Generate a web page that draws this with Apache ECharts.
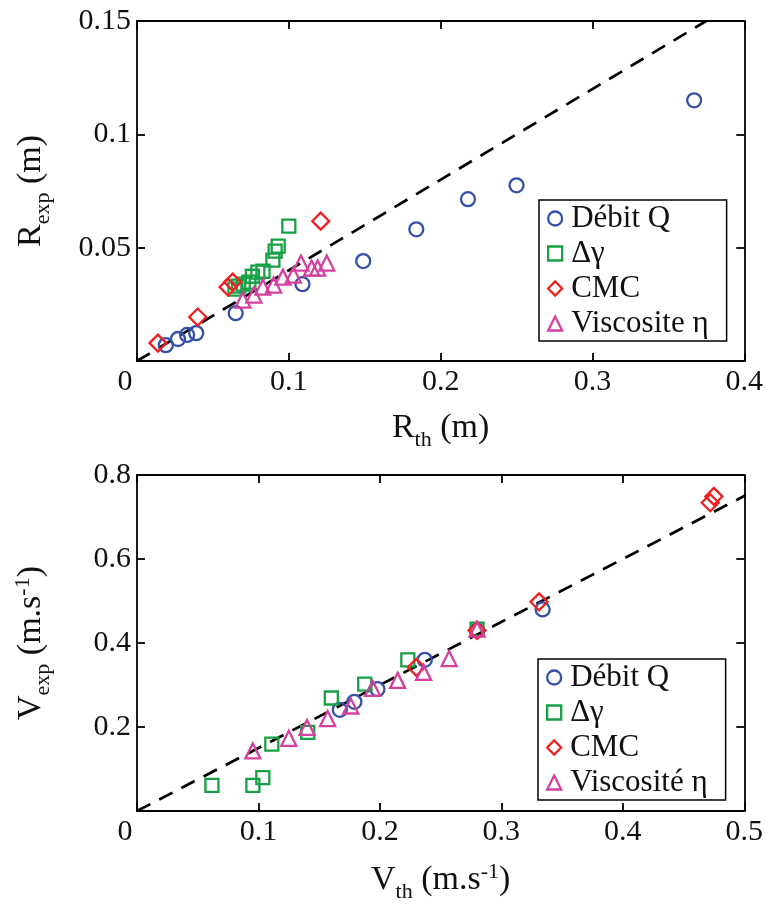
<!DOCTYPE html>
<html><head><meta charset="utf-8">
<script src="https://cdn.jsdelivr.net/npm/echarts@6/dist/echarts.min.js"></script>
<style>html,body{margin:0;padding:0;background:#fff}#c{width:766px;height:904px}</style>
</head><body><div id="c"></div>
<script>
// ---------- data ----------
// Top panel: R_exp vs R_th (m)
const rDebitQ = [[0.019,0.0070],[0.027,0.0097],[0.033,0.0115],[0.039,0.0123],[0.065,0.0211],[0.109,0.0339],[0.149,0.0441],[0.184,0.0581],[0.218,0.0714],[0.250,0.0775],[0.367,0.1150]];
const rDeltaGamma = [[0.100,0.0595],[0.093,0.0507],[0.091,0.0485],[0.0895,0.0445],[0.083,0.0396],[0.0796,0.0392],[0.076,0.0374],[0.0737,0.0348],[0.070,0.0339],[0.067,0.0330],[0.0645,0.0317]];
const rCMC = [[0.121,0.0617],[0.060,0.0326],[0.063,0.0348],[0.040,0.0194],[0.0138,0.0079]];
const rViscosite = [[0.0697,0.0269],[0.077,0.0291],[0.0829,0.0326],[0.090,0.0335],[0.0961,0.0370],[0.103,0.0379],[0.108,0.0432],[0.115,0.0410],[0.119,0.0410],[0.125,0.0432]];
const rSlope = 0.4;               // dashed reference line R_exp = 0.4 R_th
const rXRange = [0, 0.4, 0.1];    // min, max, interval
const rYRange = [0, 0.15, 0.05];

// Bottom panel: V_exp vs V_th (m.s-1)
const vDebitQ = [[0.167,0.241],[0.179,0.260],[0.198,0.290],[0.237,0.360],[0.280,0.430],[0.334,0.480]];
const vDeltaGamma = [[0.0617,0.0608],[0.0954,0.0608],[0.1036,0.0795],[0.111,0.159],[0.1406,0.187],[0.160,0.269],[0.1875,0.302],[0.223,0.360],[0.280,0.433]];
const vCMC = [[0.230,0.342],[0.280,0.430],[0.331,0.498],[0.472,0.734],[0.475,0.749]];
const vViscosite = [[0.0954,0.143],[0.125,0.173],[0.140,0.199],[0.157,0.220],[0.176,0.250],[0.194,0.292],[0.2146,0.311],[0.236,0.330],[0.257,0.363],[0.280,0.433]];
const vSlope = 1.5;               // dashed reference line V_exp = 1.5 V_th
const vXRange = [0, 0.5, 0.1];
const vYRange = [0, 0.8, 0.2];

const namesTop = ['Débit Q','Δγ','CMC','Viscosite η'];
const namesBottom = ['Débit Q','Δγ','CMC','Viscosité η'];

// ---------- styling ----------
const FONT = 'Liberation Serif';
const cBlue = '#3550a8', cGreen = '#17a045', cRed = '#f02020', cMag = '#d4409e';
const markers = [
  {symbol:'circle', size:14, color:cBlue},
  {symbol:'rect', size:13, color:cGreen},
  {symbol:'diamond', size:17, color:cRed},
  {symbol:'triangle', size:15, color:cMag}
];
const lineSt = {color:'#000', width:1.8};

function xLabelFmt(v){ return v === 0 ? '{z|0}' : String(v); }
function yLabelFmt(v){ return v === 0 ? '' : String(v); }

const nameRich = {
  a:{fontFamily:FONT, fontSize:34, color:'#111', verticalAlign:'bottom', padding:[0,0,6,0]},
  s:{fontFamily:FONT, fontSize:22, color:'#111', verticalAlign:'bottom'},
  p:{fontFamily:FONT, fontSize:22, color:'#111', verticalAlign:'bottom', padding:[0,0,20,0]}
};

function axis(gridIndex, range, pos, opts){
  const main = (pos === 'bottom' || pos === 'left');
  return Object.assign({
    type:'value', gridIndex, position:pos,
    min:range[0], max:range[1], interval:range[2],
    axisLine:{show:true, onZero:false, lineStyle:lineSt},
    axisTick:{show:true, inside:true, length:8, lineStyle:lineSt},
    splitLine:{show:false},
    axisLabel:{show:main, fontFamily:FONT, fontSize:30, color:'#111', margin:6,
      formatter:(pos==='bottom') ? xLabelFmt : yLabelFmt,
      rich:{z:{fontFamily:FONT, fontSize:30, color:'#111', padding:[0,24,0,0]}}}
  }, opts || {});
}

function scatterSeries(names, datasets, xi, yi){
  return datasets.map((d,i)=>({
    type:'scatter', name:names[i], xAxisIndex:xi, yAxisIndex:yi, data:d,
    symbol:markers[i].symbol, symbolSize:markers[i].size, z:3,
    itemStyle:{color:'rgba(0,0,0,0)', borderColor:markers[i].color, borderWidth:2.3, opacity:1},
    emphasis:{disabled:true}, silent:true
  }));
}
function refLine(slope, yRange, xi, yi){
  const yEnd = yRange[1];
  return {type:'line', xAxisIndex:xi, yAxisIndex:yi, data:[[0,0],[yEnd/slope, yEnd]],
    symbol:'none', showSymbol:false, silent:true, z:2,
    lineStyle:{color:'#000', width:2.7, type:[15,10]}};
}
function legend(names, left, top){
  return {
    orient:'vertical', left, top, padding:[3,18,2,8], itemGap:4, itemWidth:14, itemHeight:14,
    borderColor:'#000', borderWidth:1.5, backgroundColor:'#fff', selectedMode:false,
    formatter: n => '{t|' + n + '}',
    textStyle:{fontFamily:FONT, fontSize:31, lineHeight:30, color:'#111',
      rich:{t:{fontFamily:FONT, fontSize:31, lineHeight:30, color:'#111', padding:[0,0,0,4]}}},
    data: names.map((n,i)=>({name:n, icon:markers[i].symbol,
      itemStyle:{color:'rgba(0,0,0,0)', borderColor:markers[i].color, borderWidth:2.3}}))
  };
}

const chart = echarts.init(document.getElementById('c'), null, {renderer:'canvas'});
chart.setOption({
  animation:false,
  backgroundColor:'#fff',
  grid:[{left:137, top:21, width:608, height:340},
        {left:137, top:475, width:608, height:342}],
  xAxis:[
    axis(0, rXRange, 'bottom', {name:'{a|R}{s|th}{a| (m)}', nameLocation:'middle', nameGap:50, nameTextStyle:{rich:nameRich}}),
    axis(0, rXRange, 'top'),
    axis(1, vXRange, 'bottom', {name:'{a|V}{s|th}{a| (m.s}{p|-1}{a|)}', nameLocation:'middle', nameGap:50, nameTextStyle:{rich:nameRich}}),
    axis(1, vXRange, 'top')
  ],
  yAxis:[
    axis(0, rYRange, 'left', {name:'{a|R}{s|exp}{a| (m)}', nameLocation:'middle', nameGap:83, nameTextStyle:{rich:nameRich}}),
    axis(0, rYRange, 'right'),
    axis(1, vYRange, 'left', {name:'{a|V}{s|exp}{a| (m.s}{p|-1}{a|)}', nameLocation:'middle', nameGap:83, nameTextStyle:{rich:nameRich}}),
    axis(1, vYRange, 'right')
  ],
  legend:[legend(namesTop, 539, 200), legend(namesBottom, 538, 659)],
  series:[
    refLine(rSlope, rYRange, 0, 0),
    ...scatterSeries(namesTop, [rDebitQ, rDeltaGamma, rCMC, rViscosite], 0, 0),
    refLine(vSlope, vYRange, 2, 2),
    ...scatterSeries(namesBottom, [vDebitQ, vDeltaGamma, vCMC, vViscosite], 2, 2)
  ]
});
</script></body></html>
